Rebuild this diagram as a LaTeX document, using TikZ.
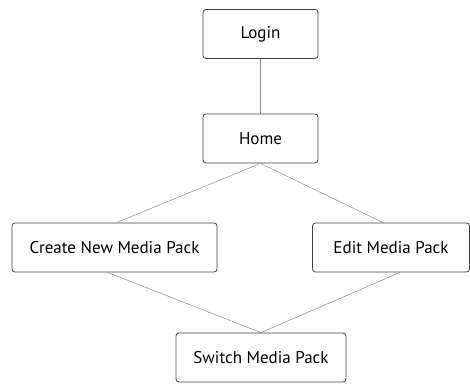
\documentclass[tikz,border=0pt]{standalone}
\usepackage{fontspec}
\setmainfont{PT Sans}
\usepackage{tikz}
\usetikzlibrary{shapes,arrows,positioning,calc}

\begin{document}
\begin{tikzpicture}[x=1pt, y=1pt]
  % Define styles
  \tikzstyle{screen} = [rectangle, draw=black!75, rounded corners=3pt, inner sep=0pt, minimum height=49pt, font=\fontsize{17}{19}\selectfont, line width=0.8pt]
  \tikzstyle{link} = [draw=black!45, line width=0.5pt]

  \useasboundingbox (0,0) rectangle (470,383);

  % Screens
  \node [screen, minimum width=115pt] (login) at (260.5,349) {Login};
  \node [screen, minimum width=115pt] (home) at (260.5,244.5) {Home};
  \node [screen, minimum width=205pt] (create) at (114.5,135.5) {Create New Media Pack};
  \node [screen, minimum width=157pt] (edit) at (391,135.5) {Edit Media Pack};
  \node [screen, minimum width=170pt] (switch) at (261,25.5) {Switch Media Pack};

  % Links
  \draw [link] (login.south) -- (home.north);
  \draw [link] (home.south) -- ([xshift=2pt]create.north);
  \draw [link] (home.south) -- ([xshift=-8pt]edit.north);
  \draw [link] ([xshift=-7pt]create.south) -- (switch.north);
  \draw [link] ([xshift=9pt]edit.south) -- (switch.north);

\end{tikzpicture}
\end{document}
